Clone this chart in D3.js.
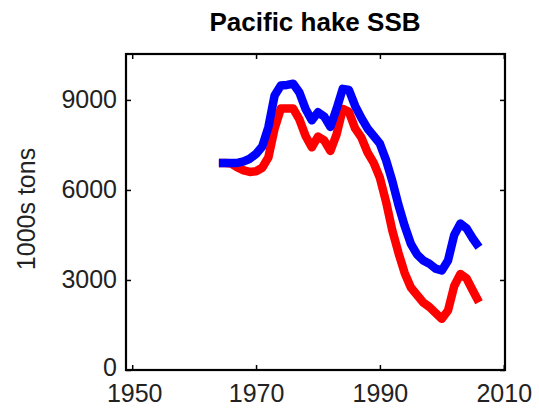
<!DOCTYPE html>
<html>
<head>
<meta charset="utf-8">
<script src="https://cdn.jsdelivr.net/npm/d3@7"></script>
<style>
  html, body { margin: 0; padding: 0; background: #fff; }
  svg { display: block; }
</style>
</head>
<body>
<svg id="chart" width="539" height="410"></svg>
<script>
const title = "Pacific hake SSB";
const yLabel = "1000s tons";
const xTicks = [1950, 1970, 1990, 2010];
const yTicks = [0, 3000, 6000, 9000];

const blueYears = [1964,1965,1966,1967,1968,1969,1970,1971,1972,1973,1974,1975,1976,1977,1978,1979,1980,1981,1982,1983,1984,1985,1986,1987,1988,1989,1990,1991,1992,1993,1994,1995,1996,1997,1998,1999,2000,2001,2002,2003,2004,2005,2006];
const blueValues = [6900,6900,6900,6900,6950,7040,7200,7450,8100,9150,9480,9500,9540,9250,8700,8320,8590,8450,8100,8700,9370,9330,8800,8400,8050,7800,7540,6990,6300,5500,4800,4200,3850,3650,3540,3380,3317,3650,4500,4880,4720,4380,4090];

const redYears = [1964,1965,1966,1967,1968,1969,1970,1971,1972,1973,1974,1975,1976,1977,1978,1979,1980,1981,1982,1983,1984,1985,1986,1987,1988,1989,1990,1991,1992,1993,1994,1995,1996,1997,1998,1999,2000,2001,2002,2003,2004,2005,2006];
const redValues = [6900,6900,6880,6750,6650,6600,6620,6740,7090,8050,8710,8710,8710,8350,7800,7420,7780,7650,7300,7850,8700,8600,8050,7750,7250,6900,6400,5600,4650,3900,3230,2750,2500,2250,2100,1900,1707,1983,2800,3200,3050,2650,2260];

(function () {
const svg = d3.select("#chart");
const pLeft = 126, pRight = 505, pTop = 54, pBottom = 370;
const font = "'Liberation Sans', Arial, Helvetica, sans-serif";

const x = d3.scaleLinear().domain([1949, 2010.2]).range([pLeft, pRight]);
const y = d3.scaleLinear().domain([0, 10530]).range([pBottom, pTop]);

// title
svg.append("text")
  .attr("x", 315).attr("y", 31)
  .attr("text-anchor", "middle")
  .attr("font-family", font).attr("font-weight", "bold").attr("font-size", 26)
  .attr("fill", "#000")
  .text(title);

// y label
svg.append("text")
  .attr("transform", `translate(35,${(pTop + pBottom) / 2 - 3}) rotate(-90)`)
  .attr("text-anchor", "middle")
  .attr("font-family", font).attr("font-size", 25)
  .attr("fill", "#222")
  .text(yLabel);

// data lines (red first, blue on top)
const line = d3.line().x(d => x(d[0])).y(d => y(d[1])).curve(d3.curveLinear);
svg.append("path")
  .attr("d", line(redYears.map((yr, i) => [yr, redValues[i]])))
  .attr("fill", "none").attr("stroke", "#ff0000").attr("stroke-width", 8.5)
  .attr("stroke-linejoin", "round").attr("stroke-linecap", "butt");
svg.append("path")
  .attr("d", line(blueYears.map((yr, i) => [yr, blueValues[i]])))
  .attr("fill", "none").attr("stroke", "#0000ff").attr("stroke-width", 8.5)
  .attr("stroke-linejoin", "round").attr("stroke-linecap", "butt");

// axes
function styleAxis(g, showText) {
  g.select(".domain").remove();
  g.selectAll(".tick line").attr("stroke", "#000").attr("stroke-width", 1.5);
  g.selectAll(".tick text")
    .attr("font-family", font).attr("font-size", 25).attr("fill", "#222");
  if (!showText) g.selectAll(".tick text").remove();
}

svg.append("g").attr("transform", `translate(0,${pBottom})`)
  .call(d3.axisBottom(x).tickValues(xTicks).tickFormat(d3.format("d")).tickSize(-5).tickPadding(14))
  .call(g => styleAxis(g, true))
  .call(g => g.selectAll(".tick text").filter(d => d === xTicks[0]).attr("dx", 2));
svg.append("g").attr("transform", `translate(0,${pTop})`)
  .call(d3.axisTop(x).tickValues(xTicks).tickSize(-5))
  .call(g => styleAxis(g, false));
svg.append("g").attr("transform", `translate(${pLeft},0)`)
  .call(d3.axisLeft(y).tickValues(yTicks).tickFormat(d3.format("d")).tickSize(-5).tickPadding(9))
  .call(g => styleAxis(g, true))
  .call(g => g.selectAll(".tick text").filter(d => d === yTicks[0]).attr("y", -3));
svg.append("g").attr("transform", `translate(${pRight},0)`)
  .call(d3.axisRight(y).tickValues(yTicks).tickSize(-5))
  .call(g => styleAxis(g, false));

// frame
svg.append("rect")
  .attr("x", pLeft).attr("y", pTop)
  .attr("width", pRight - pLeft).attr("height", pBottom - pTop)
  .attr("fill", "none").attr("stroke", "#000").attr("stroke-width", 2.2);
})();
</script>
</body>
</html>
